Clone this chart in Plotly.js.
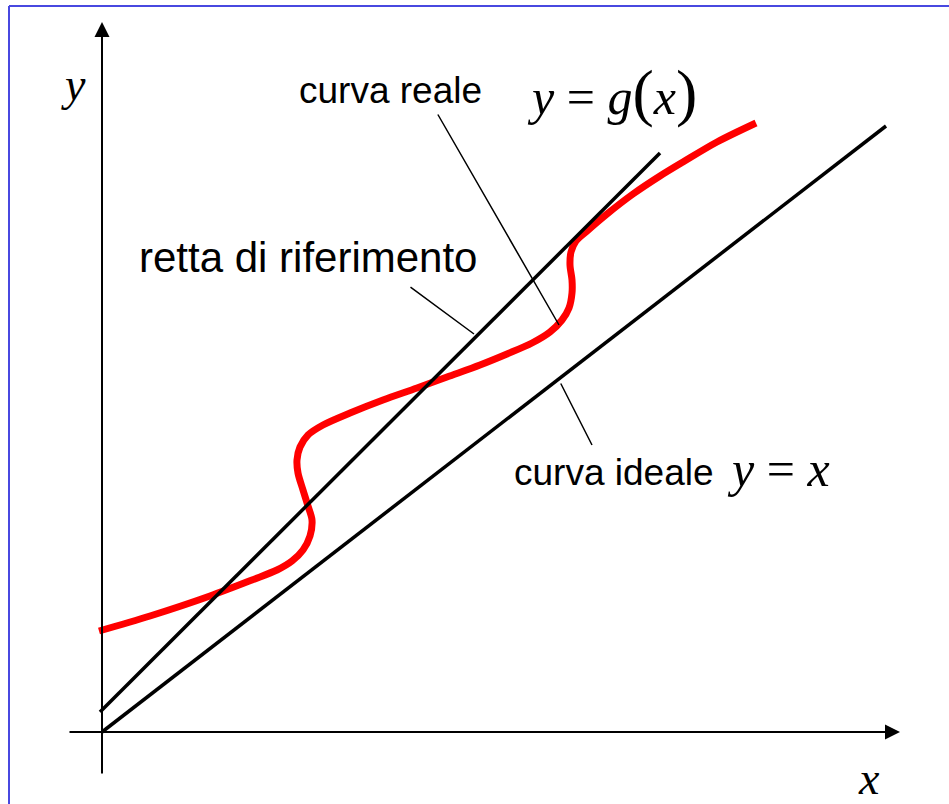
<!DOCTYPE html>
<html>
<head>
<meta charset="utf-8">
<script src="https://cdn.plot.ly/plotly-3.0.1.min.js"></script>
<style>html,body{margin:0;padding:0;background:#fff;}</style>
</head>
<body>
<div id="chart" style="width:949px;height:804px;"></div>
<script>
// Coordinates: origin at the intersection of the two axes (units ≈ pixels)
const realX = [-3, 48, 108, 150, 175, 190, 201, 208, 210, 206, 201, 196, 195, 198, 206, 221, 248, 281, 315, 345, 378, 405, 430, 448, 460, 467, 470, 470, 468, 469, 474, 485, 505, 531, 558, 581, 615, 654];
const realY = [101, 116, 136, 152, 162, 171, 182, 196, 212, 226, 242, 259, 272, 285, 297, 307, 319, 332, 344, 355, 367, 378, 389, 400, 412, 424, 439, 452, 467, 480, 491, 501, 518, 538, 556, 570, 590, 609];
const idealX = [0, 784];
const idealY = [0, 606];
const refX = [-2, 558];
const refY = [20, 579];
const axisXRange = [-34, 798];
const axisYRange = [-43, 710];

const labelRealCurve = 'curva reale';
const labelRealEq = '<i>y</i>&nbsp;=&nbsp;<i>g</i><span style="font-size:64px">(</span><i>x</i><span style="font-size:64px">)</span>';
const labelRef = 'retta di riferimento';
const labelIdeal = 'curva ideale';
const labelIdealEq = '<i>y</i>&nbsp;=&nbsp;<i>x</i>';
const labelX = '<i>x</i>';
const labelY = '<i>y</i>';

const sans = 'Liberation Sans, Arial, sans-serif';
const serif = 'Liberation Serif, Times New Roman, serif';

const traces = [
  {x: realX, y: realY, mode: 'lines', line: {color: '#ff0000', width: 7, shape: 'spline', smoothing: 0.9}, hoverinfo: 'skip'},
  {x: refX, y: refY, mode: 'lines', line: {color: '#000000', width: 3.5}, hoverinfo: 'skip'},
  {x: idealX, y: idealY, mode: 'lines', line: {color: '#000000', width: 3.5}, hoverinfo: 'skip'}
];

const annotations = [
  // axes with arrowheads
  {x: axisXRange[1], y: 0, ax: axisXRange[0], ay: 0, xref: 'x', yref: 'y', axref: 'x', ayref: 'y',
   showarrow: true, arrowhead: 2, arrowsize: 1.5, arrowwidth: 2, arrowcolor: '#000', text: ''},
  {x: 0, y: axisYRange[1], ax: 0, ay: axisYRange[0], xref: 'x', yref: 'y', axref: 'x', ayref: 'y',
   showarrow: true, arrowhead: 2, arrowsize: 1.5, arrowwidth: 2, arrowcolor: '#000', text: ''},
  // leader lines
  {x: 457, y: 407, ax: 335, ay: 619, xref: 'x', yref: 'y', axref: 'x', ayref: 'y',
   showarrow: true, arrowhead: 0, arrowwidth: 1.5, arrowcolor: '#000', text: ''},
  {x: 372, y: 398, ax: 307, ay: 446, xref: 'x', yref: 'y', axref: 'x', ayref: 'y',
   showarrow: true, arrowhead: 0, arrowwidth: 1.5, arrowcolor: '#000', text: ''},
  {x: 490, y: 287, ax: 458, ay: 350, xref: 'x', yref: 'y', axref: 'x', ayref: 'y',
   showarrow: true, arrowhead: 0, arrowwidth: 1.5, arrowcolor: '#000', text: ''},
  // texts
  {x: 195, y: 642, xref: 'x', yref: 'y', xanchor: 'left', yanchor: 'middle', showarrow: false,
   text: labelRealCurve, font: {family: sans, size: 37, color: '#000'}},
  {x: 423, y: 640, xref: 'x', yref: 'y', xanchor: 'left', yanchor: 'middle', showarrow: false,
   text: labelRealEq, font: {family: serif, size: 50, color: '#000'}},
  {x: 35, y: 475, xref: 'x', yref: 'y', xanchor: 'left', yanchor: 'middle', showarrow: false,
   text: labelRef, font: {family: sans, size: 42, color: '#000'}},
  {x: 410, y: 260, xref: 'x', yref: 'y', xanchor: 'left', yanchor: 'middle', showarrow: false,
   text: labelIdeal, font: {family: sans, size: 37, color: '#000'}},
  {x: 623, y: 263, xref: 'x', yref: 'y', xanchor: 'left', yanchor: 'middle', showarrow: false,
   text: labelIdealEq, font: {family: serif, size: 50, color: '#000'}},
  {x: 767, y: -46, xref: 'x', yref: 'y', xanchor: 'center', yanchor: 'middle', showarrow: false,
   text: labelX, font: {family: serif, size: 46, color: '#000'}},
  {x: -29, y: 648, xref: 'x', yref: 'y', xanchor: 'center', yanchor: 'middle', showarrow: false,
   text: labelY, font: {family: serif, size: 46, color: '#000'}}
];

const layout = {
  width: 949, height: 804,
  margin: {l: 0, r: 0, t: 0, b: 0, pad: 0},
  paper_bgcolor: '#ffffff', plot_bgcolor: '#ffffff',
  showlegend: false,
  xaxis: {range: [-102, 847], visible: false, fixedrange: true},
  yaxis: {range: [-72, 732], visible: false, fixedrange: true},
  annotations: annotations,
  shapes: [
    {type: 'line', xref: 'paper', yref: 'paper', x0: 9/949, x1: 9/949, y0: 0, y1: 1 - 6/804, line: {color: '#4848e0', width: 2}},
    {type: 'line', xref: 'paper', yref: 'paper', x0: 9/949, x1: 1, y0: 1 - 6/804, y1: 1 - 6/804, line: {color: '#4848e0', width: 2}}
  ]
};

Plotly.newPlot('chart', traces, layout, {staticPlot: true, displayModeBar: false});
</script>
</body>
</html>
